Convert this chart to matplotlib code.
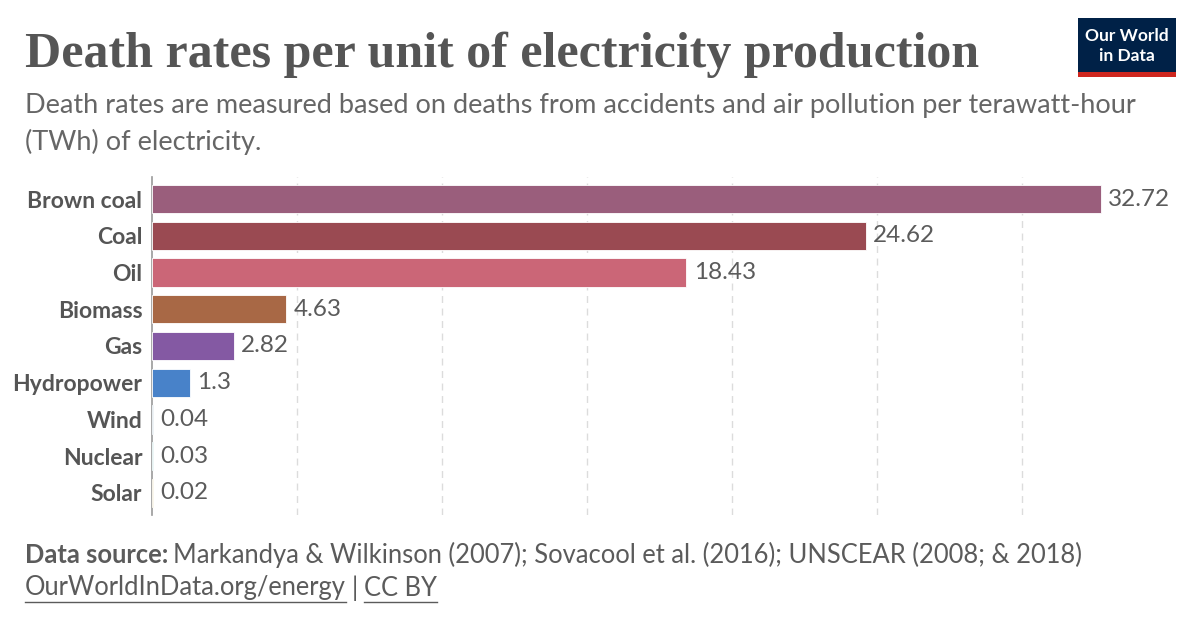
import matplotlib.pyplot as plt
from matplotlib.patches import Rectangle

# Data
sources = ["Brown coal", "Coal", "Oil", "Biomass", "Gas", "Hydropower", "Wind", "Nuclear", "Solar"]
death_rates = [32.72, 24.62, 18.43, 4.63, 2.82, 1.3, 0.04, 0.03, 0.02]
value_labels = ["32.72", "24.62", "18.43", "4.63", "2.82", "1.3", "0.04", "0.03", "0.02"]
bar_colors = ["#9a5e7c", "#9a4a52", "#cb6677", "#a86845", "#8459a3", "#4882c9", "#3c6f9a", "#2aa8a8", "#c9a227"]

W, H = 1200, 628
fig = plt.figure(figsize=(W / 100, H / 100), dpi=100)
fig.patch.set_facecolor("white")

# axes placed in pixel coords
left, right, top, bottom = 152, 1180, 177, 515
ax = fig.add_axes([left / W, 1 - bottom / H, (right - left) / W, (bottom - top) / H])

n = len(sources)
ypos = list(range(n))
ax.barh(ypos, death_rates, height=0.77, color=bar_colors, edgecolor="white", linewidth=0.6, zorder=3)
ax.set_ylim(n - 0.5 + 0.1, -0.5 - 0.1)
ax.set_xlim(0, (right - left) / 29.0)

for y, v, lab in zip(ypos, death_rates, value_labels):
    ax.text(v + 0.25, y, lab, va="center", ha="left", fontsize=17.5, family="Lato", color="#5b5b5b")

ax.set_xticks([5, 10, 15, 20, 25, 30])
ax.grid(axis="x", linestyle=(0, (5, 4)), color="#dcdcdc", linewidth=1, zorder=0)
ax.tick_params(axis="x", length=0, labelbottom=False)
ax.set_yticks(ypos)
ax.set_yticklabels(sources, fontsize=16.5, family="Lato", fontweight="bold", color="#555555")
ax.tick_params(axis="y", length=0, pad=7)
for s in ["top", "right", "bottom"]:
    ax.spines[s].set_visible(False)
ax.spines["left"].set_color("#999999")
ax.spines["left"].set_linewidth(1.2)
ax.set_facecolor("none")

# Title and subtitle
fig.text(25 / W, 1 - 55 / H, "Death rates per unit of electricity production", fontsize=36,
         family="Liberation Serif", fontweight="bold", color="#555555", va="center", ha="left")
fig.text(25 / W, 1 - 106 / H, "Death rates are measured based on deaths from accidents and air pollution per terawatt-hour",
         fontsize=19.5, family="Lato", color="#666666", va="center", ha="left")
fig.text(25 / W, 1 - 142 / H, "(TWh) of electricity.", fontsize=19.5, family="Lato", color="#666666", va="center", ha="left")

# Footer
fs = 18.4
t = fig.text(25 / W, 1 - 555 / H, "Data source:", fontsize=fs, family="Lato", fontweight="bold",
             color="#5b5b5b", va="center", ha="left")
fig.canvas.draw()
bb = t.get_window_extent()
fig.text((bb.x1 + 5) / W, 1 - 555 / H,
         "Markandya & Wilkinson (2007); Sovacool et al. (2016); UNSCEAR (2008; & 2018)",
         fontsize=fs, family="Lato", color="#5b5b5b", va="center", ha="left")
l1 = fig.text(25 / W, 1 - 588 / H, "OurWorldInData.org/energy", fontsize=fs, family="Lato",
              color="#5b5b5b", va="center", ha="left")
fig.canvas.draw()
b1 = l1.get_window_extent()
sep = fig.text((b1.x1 + 6) / W, 1 - 588 / H, "|", fontsize=fs, family="Lato", color="#5b5b5b", va="center", ha="left")
fig.canvas.draw()
bs = sep.get_window_extent()
l2 = fig.text((bs.x1 + 6) / W, 1 - 588 / H, "CC BY", fontsize=fs, family="Lato", color="#5b5b5b", va="center", ha="left")
fig.canvas.draw()
b2 = l2.get_window_extent()
for b in (b1, b2):
    fig.add_artist(plt.Line2D([b.x0 / W, b.x1 / W], [(b.y0 - 1) / H, (b.y0 - 1) / H],
                              color="#5b5b5b", linewidth=1, transform=fig.transFigure))

# Logo
fig.add_artist(Rectangle((1078 / W, 1 - 77 / H), 98 / W, 59 / H, transform=fig.transFigure,
                         facecolor="#002147", edgecolor="none"))
fig.add_artist(Rectangle((1078 / W, 1 - 77 / H), 98 / W, 5 / H, transform=fig.transFigure,
                         facecolor="#ce261e", edgecolor="none"))
fig.text(1127 / W, 1 - 36 / H, "Our World", fontsize=12.5, family="Lato", fontweight="bold", color="white",
         ha="center", va="center")
fig.text(1127 / W, 1 - 56 / H, "in Data", fontsize=12.5, family="Lato", fontweight="bold", color="white",
         ha="center", va="center")

plt.savefig("out.png", dpi=100, facecolor="white")
